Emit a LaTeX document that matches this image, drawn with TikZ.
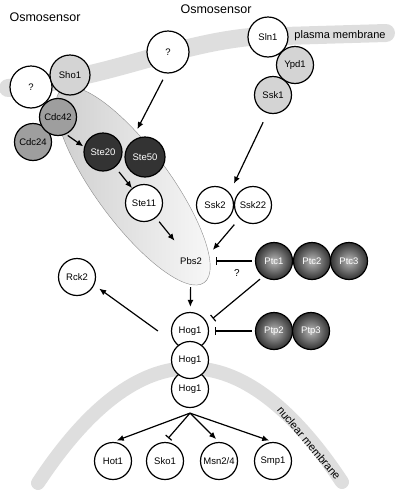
\documentclass[tikz,border=0pt]{standalone}
\usepackage{fontspec}
\setmainfont{Liberation Sans}
\usetikzlibrary{positioning,calc,arrows.meta}
\tikzset{
  prot/.style={draw,circle,fill=white,line width=1.2pt,minimum size=#1,inner sep=0pt,
    font=\fontsize{9.5}{11}\selectfont},
  prot/.default=37pt,
  claro/.style={prot=#1,fill=black!17},
  claro/.default=37pt,
  medio/.style={prot=#1,fill=black!38},
  medio/.default=37pt,
  oscuro/.style={prot=#1,fill=black!80,text=white},
  oscuro/.default=38pt,
  fosfa/.style={prot=#1,shading=radial,inner color=black!28,outer color=black!80,text=white},
  fosfa/.default=37pt,
  membrana/.style={line width=#1,draw=black!13,line cap=round},
  rotulo/.style={font=\fontsize{#1}{#1}\selectfont,inner sep=1pt},
  arr/.style={line width=1.2pt,-{Latex[length=7pt,width=6pt]}},
  inh/.style={line width=1.2pt,-{Bar[width=8pt]}}
}

\begin{document}
\begin{tikzpicture}[x=1pt,y=-1pt]
	\useasboundingbox (0,0) rectangle (400,496);
	% membranes
	\draw[membrana=18pt] (8,88) .. controls (110,78) and (170,45) .. (250,37) -- (386,33);
	\draw[membrana=14pt] (38,483) .. controls (139,330) and (241,330) .. (342,482);
	\shade[draw=black!45,line width=0.4pt,left color=black!20,right color=black!2,
	  rotate around={-53.6:(133,186)}] (133,186) ellipse [x radius=120pt,y radius=37pt];

	\node[rotulo=12.5] (osmoA) at (45,17) {Osmosensor};
	\node[rotulo=12.5] (osmoB) at (216,9) {Osmosensor};
	\node[rotulo=11] (plasma) at (340,36) {plasma membrane};
	\node[rotulo=11,rotate=-50] (nuclear) at (309,443) {nuclear membrane};

	% Sho1 branch
	\node[prot=42pt] (qizq) at (31,87) {?};
	\node[claro=40pt] (sho1) at (70,75) {Sho1};
	\node[medio] (cdc24) at (33,142) {Cdc24};
	\node[medio] (cdc42) at (58,117) {Cdc42};
	\node[prot=42pt] (qsup) at (168,52) {?};
	\node[oscuro] (ste20) at (103,152) {Ste20};
	\node[oscuro=40pt] (ste50) at (145,157) {Ste50};
	\node[prot] (ste11) at (144,203) {Ste11};
	\node[prot,draw=none,fill=none] (pbs2) at (191,261) {Pbs2};

	% Sln1 branch
	\node[prot=40pt] (sln1) at (268,37) {Sln1};
	\node[claro] (ypd1) at (295,65) {Ypd1};
	\node[claro] (ssk1) at (273,95) {Ssk1};
	\node[prot] (ssk2) at (215,205) {Ssk2};
	\node[prot] (ssk22) at (253,205) {Ssk22};

	% phosphatases
	\foreach \Nombre/\Xpos in {1/274,2/312,3/349} {
		\node[fosfa] (ptc\Nombre) at (\Xpos,261) {Ptc\Nombre};
	}
	\foreach \Nombre/\Xpos in {2/274,3/311} {
		\node[fosfa] (ptp\Nombre) at (\Xpos,331) {Ptp\Nombre};
	}
	\node[rotulo=10] (qptc) at (237,273) {?};

	% Hog1 and targets
	\node[prot] (rck2) at (77,277) {Rck2};
	\node[prot] (hogA) at (190,331) {Hog1};
	\node[prot] (hogC) at (190,389) {Hog1};
	\node[prot] (hogB) at (190,360) {Hog1};
	\foreach \Nombre/\Texto/\Xpos in {hot1/Hot1/113,sko1/Sko1/165,msn24/Msn2\slash 4/219,smp1/Smp1/273} {
		\node[prot] (\Nombre) at (\Xpos,461) {\Texto};
	}
	\coordinate (fork) at ([yshift=-5pt]hogC.south);

	\draw[arr,shorten <=2pt,shorten >=1pt] (cdc42.-65) -- (ste20.165);
	\draw[arr,shorten <=7pt,shorten >=15pt] (qsup.265) -- (ste50.135);
	\draw[arr,shorten <=6pt] (ste20) -- (ste11);
	\draw[arr,shorten <=5pt,shorten >=7pt] (ste11) -- (pbs2);
	\draw[arr,shorten <=10pt,shorten >=10pt] (ssk1.-107) -- (ssk2.40);
	\draw[arr,shorten <=8pt,shorten >=6pt] (ssk22.-135) -- (pbs2.20);
	\draw[inh,shorten <=3pt,shorten >=6pt] (ptc1) -- (pbs2);
	\draw[inh,shorten <=4pt,shorten >=7pt] (ptc1.-125) -- (hogA.25);
	\draw[inh,shorten <=3pt,shorten >=6pt] (ptp2) -- (hogA);
	\draw[arr,shorten <=7pt,shorten >=5pt] (pbs2) -- (hogA);
	\draw[arr,shorten >=6pt] ([xshift=-13pt]hogA.west) -- (rck2.-25);
	\foreach \Diana in {hot1,msn24,smp1} {
		\draw[arr,shorten >=4pt] (fork) -- (\Diana.north);
	}
	\draw[inh,shorten >=5pt] (fork) -- (sko1.north);
\end{tikzpicture}
\end{document}
